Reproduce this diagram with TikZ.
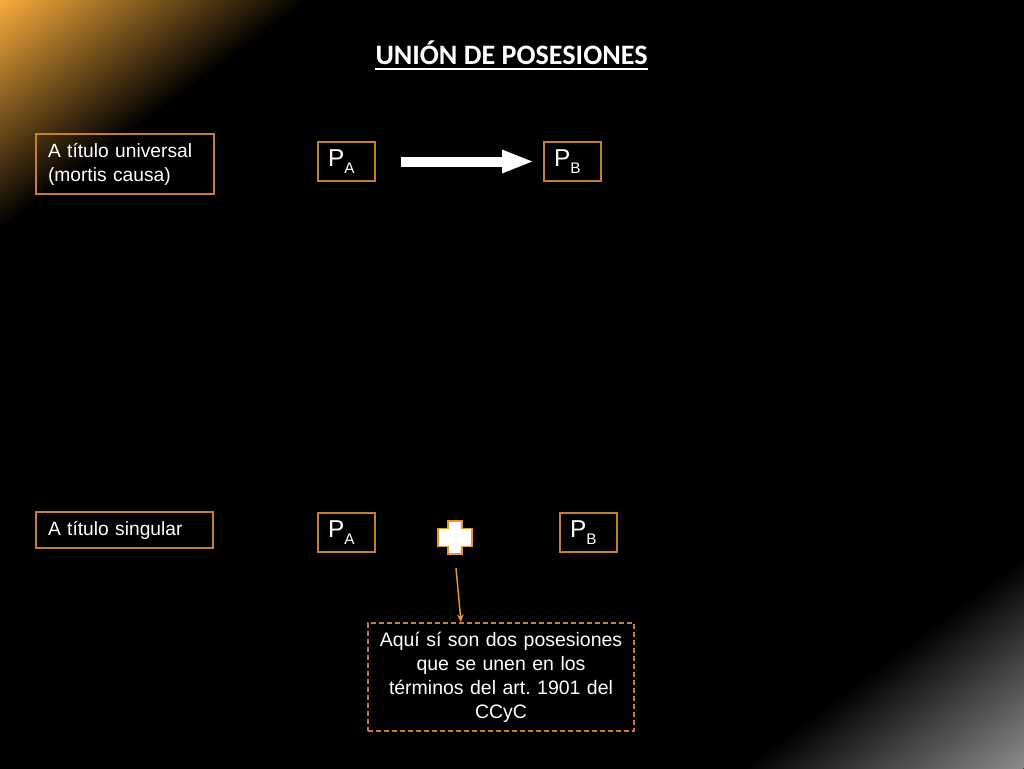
\documentclass[tikz,border=0pt]{standalone}
\usepackage{fontspec}
\setmainfont{Liberation Sans}
\newfontfamily\titlefont{Carlito}
\usetikzlibrary{arrows.meta}
\frenchspacing
\definecolor{boxorange}{RGB}{196,128,48}
\definecolor{arroworange}{RGB}{232,152,40}
\definecolor{glow}{RGB}{248,172,60}
\definecolor{glowgray}{RGB}{140,140,140}
\newcommand{\PSub}[1]{P\raisebox{-0.3em}{\fontsize{11.5pt}{12pt}\selectfont #1}}
\begin{document}
\begin{tikzpicture}[x=0.75pt,y=-0.75pt,
  obox/.style={draw=boxorange, line width=1.2pt, text=white, inner ysep=0pt,
    inner xsep=9pt, align=left, font=\fontsize{14.4pt}{18pt}\selectfont},
  pbox/.style={draw=boxorange, line width=1.2pt, text=white, inner ysep=0pt,
    inner xsep=7.5pt, align=left, text width=27.75pt, minimum height=29.25pt,
    font=\fontsize{18.3pt}{20pt}\selectfont},
  notebox/.style={draw=boxorange, line width=1.2pt, dash pattern=on 3.75pt off 2.25pt,
    text=white, inner ysep=0pt, inner xsep=4.75pt, text width=190pt, align=center,
    minimum height=81pt, font=\fontsize{14.6pt}{18pt}\selectfont},
  blockarrow/.style={white, line width=7.5pt, -{Triangle[length=24pt,width=15.75pt]}},
  thinarrow/.style={arroworange, line width=1.1pt, -{Stealth[length=6pt,width=5pt]}},
  crossshape/.style={fill=white, draw=arroworange, line width=1.2pt, line join=miter}
]
\useasboundingbox (0,0) rectangle (1024,768);
\fill[black] (-20,-20) rectangle (1044,788);
\begin{scope}
  \clip (-20,-20) rectangle (1044,788);
  \begin{scope}[transform canvas={shift={(0,0)},rotate=-53.4}]
    \shade[left color=glow, right color=black] (0,-700) rectangle (184,700);
  \end{scope}
  \begin{scope}[transform canvas={shift={(1024,768)},rotate=126.9}]
    \shade[left color=glowgray, right color=black] (0,-700) rectangle (169,700);
  \end{scope}
\end{scope}

% title
\node[anchor=base, inner sep=0pt, text=white, font=\titlefont\bfseries\fontsize{21.1pt}{24pt}\selectfont]
  (title) at (511.5,64) {UNIÓN DE POSESIONES};
\draw[white, line width=1.6pt] ([yshift=-3.6pt]title.base west) -- ([yshift=-3.6pt]title.base east);

% row 1
\node[obox, text width=115.5pt, minimum height=45pt] (univ) at (125,164)
  {A título universal\\(mortis causa)};
\node[pbox] (pa1) at (346.5,161.5) {\PSub{A}};
\node[pbox] (pb1) at (572.5,161.5) {\PSub{B}};
\draw[blockarrow] ([xshift=18.75pt]pa1.east) -- ([xshift=-6.75pt]pb1.west);

% row 2
\node[obox, text width=114.75pt, minimum height=27pt] (sing) at (124.5,530)
  {A título singular};
\node[pbox] (pa2) at (346.5,532.5) {\PSub{A}};
\node[pbox] (pb2) at (588.5,532.5) {\PSub{B}};
\node[inner sep=0pt, minimum width=25.5pt, minimum height=24.75pt] (plus) at (455,537.5) {};
\draw[crossshape] (plus.center) ++(-7,-16.5) -- ++(14,0) -- ++(0,7.5) -- ++(10,0)
  -- ++(0,18) -- ++(-10,0) -- ++(0,7.5) -- ++(-14,0) -- ++(0,-7.5) -- ++(-10,0)
  -- ++(0,-18) -- ++(10,0) -- cycle;

\node[notebox] (note) at (501,677)
  {Aquí sí son dos posesiones\\que se unen en los\\términos del art. 1901 del\\CCyC};
\draw[thinarrow] ([shift={(1,30.5)}]plus.center) -- (461,0 |- note.north);
\end{tikzpicture}
\end{document}
